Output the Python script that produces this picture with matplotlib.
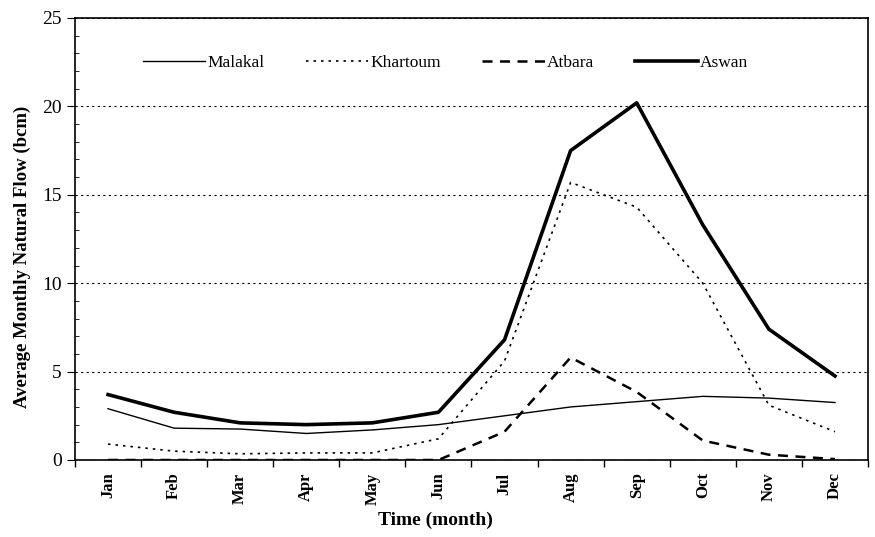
import matplotlib
matplotlib.use("Agg")
import matplotlib.pyplot as plt
import numpy as np
from matplotlib.ticker import MultipleLocator, FixedLocator

plt.rcParams['font.family'] = ['Liberation Serif', 'DejaVu Serif']

months = ['Jan', 'Feb', 'Mar', 'Apr', 'May', 'Jun',
          'Jul', 'Aug', 'Sep', 'Oct', 'Nov', 'Dec']

# average monthly natural flow (bcm) at each station
malakal = [2.9, 1.8, 1.75, 1.5, 1.7, 2.0, 2.5, 3.0, 3.3, 3.6, 3.5, 3.25]
khartoum = [0.9, 0.5, 0.35, 0.4, 0.4, 1.2, 5.6, 15.7, 14.3, 10.0, 3.1, 1.6]
atbara = [0.0, 0.0, 0.0, 0.0, 0.0, 0.0, 1.6, 5.8, 3.85, 1.1, 0.3, 0.05]
aswan = [3.7, 2.7, 2.1, 2.0, 2.1, 2.7, 6.8, 17.5, 20.2, 13.3, 7.4, 4.75]

fig = plt.figure(figsize=(8.75, 5.37), dpi=100)
ax = fig.add_axes([0.0857, 0.1434, 0.9063, 0.8231])

x = np.arange(len(months))
ax.plot(x, malakal, color='black', lw=1.0, label='Malakal')
ax.plot(x, khartoum, color='black', lw=1.2, ls=(0, (1.5, 3)), label='Khartoum')
ax.plot(x, atbara, color='black', lw=1.8, ls=(0, (4, 3)), label='Atbara')
ax.plot(x, aswan, color='black', lw=2.6, label='Aswan')

ax.set_xlim(-0.5, 11.5)
ax.set_ylim(0, 25)

ax.set_xticks(x)
ax.set_xticklabels(months, rotation=90, fontsize=12, fontweight='bold')
ax.xaxis.set_minor_locator(FixedLocator(np.arange(-0.5, 12, 1)))
ax.tick_params(axis='x', which='major', length=0, pad=9)
ax.tick_params(axis='x', which='minor', length=5, direction='out', width=1)

ax.yaxis.set_major_locator(MultipleLocator(5))
ax.yaxis.set_minor_locator(MultipleLocator(1))
ax.tick_params(axis='y', which='major', length=6, direction='out', labelsize=14)
ax.tick_params(axis='y', which='minor', length=3, direction='in')

ax.grid(axis='y', which='major', color='black', ls=(0, (2, 3)), lw=0.8)

for s in ax.spines.values():
    s.set_linewidth(1.2)

ax.set_ylabel('Average Monthly Natural Flow (bcm)', fontsize=13.5, fontweight='bold')
ax.yaxis.set_label_coords(-0.055, 0.46)
ax.set_xlabel('Time (month)', fontsize=14, fontweight='bold')
ax.xaxis.set_label_coords(0.454, -0.118)

ax.legend(ncol=4, frameon=False, loc='center', bbox_to_anchor=(0.467, 0.898),
          fontsize=12.5, handlelength=3.6, columnspacing=2.4, handletextpad=0.1)

fig.savefig('out.png', dpi=100)
